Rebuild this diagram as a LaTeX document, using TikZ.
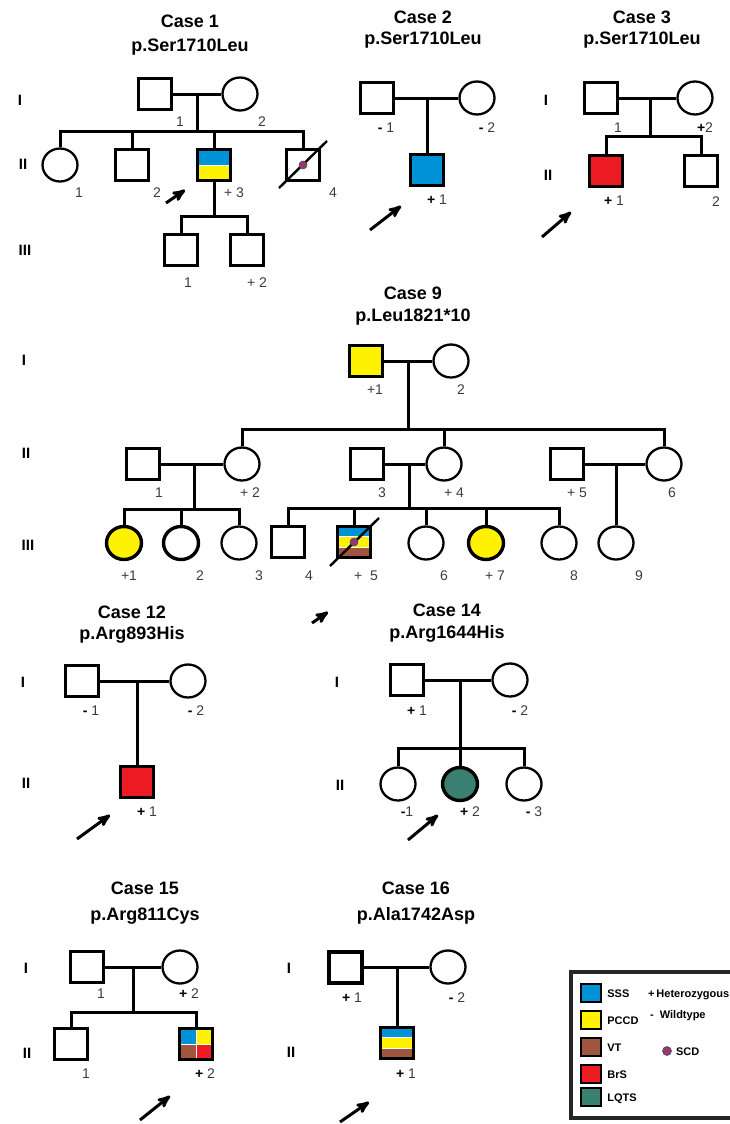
\documentclass[tikz,border=0pt]{standalone}
\usepackage{fontspec}
\setmainfont{Liberation Sans}
\usetikzlibrary{arrows, calc, positioning, shapes.geometric}

\definecolor{sssblue}{RGB}{0,146,214}
\definecolor{pccdyellow}{RGB}{255,242,0}
\definecolor{vtbrown}{RGB}{160,85,62}
\definecolor{brsred}{RGB}{237,28,36}
\definecolor{lqtsgreen}{RGB}{58,128,112}
\definecolor{scdpurple}{RGB}{150,55,115}
\definecolor{numgray}{RGB}{60,60,60}

\newcommand{\hetsign}{\textcolor{black}{\bfseries +}}
\newcommand{\wildsign}{\textcolor{black}{\bfseries -}}

\begin{document}
\begin{tikzpicture}[x=1pt, y=-1pt, >=stealth',
  male/.style={rectangle, draw, line width=3.4pt, minimum width=33pt, minimum height=31pt, inner sep=0pt},
  female/.style={ellipse, draw, line width=2.3pt, minimum width=35pt, minimum height=33pt, inner sep=0pt},
  bold female/.style={female, line width=3.4pt},
  link/.style={line width=3pt},
  dead/.style={line width=2.4pt},
  proband/.style={->, line width=3pt},
  scd/.style={circle, fill=scdpurple, draw=black!70, line width=0.6pt, minimum size=8pt, inner sep=0pt},
  title/.style={font=\bfseries\fontsize{18}{20}\selectfont, text height=12.8pt, text depth=0pt, inner sep=0pt},
  gen/.style={font=\bfseries\fontsize{15}{15}\selectfont, text height=11pt, text depth=0pt, inner sep=0pt},
  num/.style={font=\fontsize{14}{14}\selectfont, text=numgray, text height=10pt, text depth=0pt, inner sep=0pt},
  swatch/.style={rectangle, draw, line width=2.4pt, minimum width=20pt, minimum height=18pt, inner sep=0pt},
  legtext/.style={font=\bfseries\fontsize{11}{12}\selectfont, text height=8pt, text depth=0pt, inner sep=0pt},
  split2/.style={path picture={
    \fill[sssblue] (path picture bounding box.north west) rectangle (path picture bounding box.east);
    \fill[pccdyellow] (path picture bounding box.west) rectangle (path picture bounding box.south east);
    \draw[white, line width=1pt] (path picture bounding box.west) -- (path picture bounding box.east);}},
  split3/.style={path picture={
    \coordinate (pa) at ($(path picture bounding box.north west)!0.333!(path picture bounding box.south west)$);
    \coordinate (pb) at ($(path picture bounding box.north west)!0.667!(path picture bounding box.south west)$);
    \coordinate (pc) at ($(path picture bounding box.north east)!0.333!(path picture bounding box.south east)$);
    \coordinate (pd) at ($(path picture bounding box.north east)!0.667!(path picture bounding box.south east)$);
    \fill[sssblue] (path picture bounding box.north west) rectangle (pc);
    \fill[pccdyellow] (pa) rectangle (pd);
    \fill[vtbrown] (pb) rectangle (path picture bounding box.south east);
    \draw[white, line width=1pt] (pa) -- (pc) (pb) -- (pd);}},
  quad/.style={path picture={
    \fill[sssblue] (path picture bounding box.north west) rectangle (path picture bounding box.center);
    \fill[pccdyellow] (path picture bounding box.north east) rectangle (path picture bounding box.center);
    \fill[vtbrown] (path picture bounding box.south west) rectangle (path picture bounding box.center);
    \fill[brsred] (path picture bounding box.south east) rectangle (path picture bounding box.center);
    \draw[white, line width=1pt] (path picture bounding box.north) -- (path picture bounding box.south)
      (path picture bounding box.west) -- (path picture bounding box.east);}}]

  \useasboundingbox (0,0) rectangle (729,1124);

  % Case 1
  \node[title] (c1title) at (190,21) {Case 1};
  \node[title] (c1mut) at (190,45) {p.Ser1710Leu};
  \node[gen] (c1g1) at (20,100) {I};
  \node[gen] (c1g2) at (23,164) {II};
  \node[gen] (c1g3) at (25,250) {III};
  \node[male] (c1I1) at (155,94) {};
  \node[female] (c1I2) at (240,94) {};
  \node[female] (c1II1) at (60,165) {};
  \node[male] (c1II2) at (132,165) {};
  \node[male, split2] (c1II3) at (214,165) {};
  \node[male] (c1II4) at (303,165) {};
  \node[male] (c1III1) at (181,250) {};
  \node[male] (c1III2) at (247,250) {};
  \coordinate (c1m) at (197,94);
  \coordinate (c1s) at (197,131);
  \coordinate (c1s2) at (214,216);
  \draw[link] (c1I1) -- (c1I2);
  \draw[link] (c1m) -- (c1s);
  \draw[link] (c1II1) |- (c1s) -| (c1II4);
  \draw[link] (c1s -| c1II2) -- (c1II2);
  \draw[link] (c1s -| c1II3) -- (c1II3);
  \draw[link] (c1II3) -- (c1s2);
  \draw[link] (c1III1) |- (c1s2) -| (c1III2);
  \draw[dead] ($(c1II4)+(-24,23)$) -- ($(c1II4)+(24,-24)$);
  \node[scd] (c1dot) at (c1II4) {};
  \node[num] (c1l1) at (180,121) {1};
  \node[num] (c1l2) at (262,121) {2};
  \node[num] (c1l3) at (79,192) {1};
  \node[num] (c1l4) at (157,192) {2};
  \node[num] (c1l5) at (234,192) {+ 3};
  \node[num] (c1l6) at (333,192) {4};
  \node[num] (c1l7) at (188,282) {1};
  \node[num] (c1l8) at (257,282) {+ 2};
  \coordinate (c1a) at (166,203);
  \coordinate (c1b) at (185,190);
  \draw[proband] (c1a) -- (c1b);

  % Case 2
  \node[title] (c2title) at (423,17) {Case 2};
  \node[title] (c2mut) at (423,38) {p.Ser1710Leu};
  \node[male] (c2I1) at (377,98) {};
  \node[female] (c2I2) at (477,98) {};
  \node[male, fill=sssblue] (c2II1) at (427,170) {};
  \coordinate (c2m) at (427,98);
  \draw[link] (c2I1) -- (c2I2);
  \draw[link] (c2m) -- (c2II1);
  \node[num] (c2l1) at (386,127) {\wildsign\ 1};
  \node[num] (c2l2) at (487,127) {\wildsign\ 2};
  \node[num] (c2l3) at (437,199) {\hetsign\ 1};
  \coordinate (c2a) at (370,230);
  \coordinate (c2b) at (401,206);
  \draw[proband] (c2a) -- (c2b);

  % Case 3
  \node[title] (c3title) at (642,17) {Case 3};
  \node[title] (c3mut) at (642,38) {p.Ser1710Leu};
  \node[gen] (c3g1) at (546,100) {I};
  \node[gen] (c3g2) at (548,175) {II};
  \node[male] (c3I1) at (601,98) {};
  \node[female] (c3I2) at (695,98) {};
  \node[male, fill=brsred] (c3II1) at (606,171) {};
  \node[male] (c3II2) at (701,171) {};
  \coordinate (c3m) at (650,98);
  \coordinate (c3s) at (650,136);
  \draw[link] (c3I1) -- (c3I2);
  \draw[link] (c3m) -- (c3s);
  \draw[link] (c3II1) |- (c3s) -| (c3II2);
  \node[num] (c3l1) at (618,127) {1};
  \node[num] (c3l2) at (705,127) {\hetsign 2};
  \node[num] (c3l3) at (614,200) {\hetsign\ 1};
  \node[num] (c3l4) at (716,201) {2};
  \coordinate (c3a) at (542,237);
  \coordinate (c3b) at (571,212);
  \draw[proband] (c3a) -- (c3b);

  % Case 9
  \node[title] (c9title) at (413,293) {Case 9};
  \node[title] (c9mut) at (413,315) {p.Leu1821*10};
  \node[gen] (c9g1) at (24,360) {I};
  \node[gen] (c9g2) at (26,453) {II};
  \node[gen] (c9g3) at (28,545) {III};
  \node[male, fill=pccdyellow] (c9I1) at (366,361) {};
  \node[female] (c9I2) at (451,361) {};
  \node[male] (c9II1) at (143,464) {};
  \node[female] (c9II2) at (242,464) {};
  \node[male] (c9II3) at (367,464) {};
  \node[female] (c9II4) at (444,464) {};
  \node[male] (c9II5) at (567,464) {};
  \node[female] (c9II6) at (664,464) {};
  \node[bold female, fill=pccdyellow] (c9III1) at (124,543) {};
  \node[bold female] (c9III2) at (181,543) {};
  \node[female] (c9III3) at (239,543) {};
  \node[male] (c9III4) at (288,542) {};
  \node[male, split3] (c9III5) at (354,542) {};
  \node[female] (c9III6) at (426,543) {};
  \node[bold female, fill=pccdyellow] (c9III7) at (486,543) {};
  \node[female] (c9III8) at (559,543) {};
  \node[female] (c9III9) at (616,543) {};
  \coordinate (c9m) at (408,361);
  \coordinate (c9s) at (408,429);
  \coordinate (c9m1) at (194,464);
  \coordinate (c9s1) at (194,509);
  \coordinate (c9m2) at (409,464);
  \coordinate (c9s2) at (409,508);
  \coordinate (c9m3) at (616,464);
  \draw[link] (c9I1) -- (c9I2);
  \draw[link] (c9m) -- (c9s);
  \draw[link] (c9II2) |- (c9s) -| (c9II6);
  \draw[link] (c9s -| c9II4) -- (c9II4);
  \draw[link] (c9II1) -- (c9II2);
  \draw[link] (c9m1) -- (c9s1);
  \draw[link] (c9III1) |- (c9s1) -| (c9III3);
  \draw[link] (c9s1 -| c9III2) -- (c9III2);
  \draw[link] (c9II3) -- (c9II4);
  \draw[link] (c9m2) -- (c9s2);
  \draw[link] (c9III4) |- (c9s2) -| (c9III8);
  \draw[link] (c9s2 -| c9III5) -- (c9III5);
  \draw[link] (c9s2 -| c9III6) -- (c9III6);
  \draw[link] (c9s2 -| c9III7) -- (c9III7);
  \draw[link] (c9II5) -- (c9II6);
  \draw[link] (c9m3) -- (c9III9);
  \draw[dead] ($(c9III5)+(-24,24)$) -- ($(c9III5)+(25,-24)$);
  \node[scd] (c9dot) at (c9III5) {};
  \node[num] (c9l1) at (375,389) {+1};
  \node[num] (c9l2) at (461,389) {2};
  \node[num] (c9l3) at (159,492) {1};
  \node[num] (c9l4) at (250,492) {+ 2};
  \node[num] (c9l5) at (382,492) {3};
  \node[num] (c9l6) at (454,492) {+ 4};
  \node[num] (c9l7) at (577,492) {+ 5};
  \node[num] (c9l8) at (672,492) {6};
  \node[num] (c9l9) at (129,575) {+1};
  \node[num] (c9l10) at (200,575) {2};
  \node[num] (c9l11) at (259,575) {3};
  \node[num] (c9l12) at (309,575) {4};
  \node[num] (c9l13) at (366,575) {+ \ 5};
  \node[num] (c9l14) at (444,575) {6};
  \node[num] (c9l15) at (495,575) {+ 7};
  \node[num] (c9l16) at (574,575) {8};
  \node[num] (c9l17) at (639,575) {9};
  \coordinate (c9a) at (312,623);
  \coordinate (c9b) at (328,612);
  \draw[proband] (c9a) -- (c9b);

  % Case 12
  \node[title] (c12title) at (132,612) {Case 12};
  \node[title] (c12mut) at (132,633) {p.Arg893His};
  \node[gen] (c12g1) at (23,682) {I};
  \node[gen] (c12g2) at (26,783) {II};
  \node[male] (c12I1) at (82,681) {};
  \node[female] (c12I2) at (188,681) {};
  \node[male, fill=brsred] (c12II1) at (137,782) {};
  \coordinate (c12m) at (137,681);
  \draw[link] (c12I1) -- (c12I2);
  \draw[link] (c12m) -- (c12II1);
  \node[num] (c12l1) at (91,710) {\wildsign\ 1};
  \node[num] (c12l2) at (196,710) {\wildsign\ 2};
  \node[num] (c12l3) at (147,811) {\hetsign\ 1};
  \coordinate (c12a) at (77,839);
  \coordinate (c12b) at (110,815);
  \draw[proband] (c12a) -- (c12b);

  % Case 14
  \node[title] (c14title) at (447,610) {Case 14};
  \node[title] (c14mut) at (447,632) {p.Arg1644His};
  \node[gen] (c14g1) at (337,682) {I};
  \node[gen] (c14g2) at (340,785) {II};
  \node[male] (c14I1) at (407,680) {};
  \node[female] (c14I2) at (510,680) {};
  \node[female] (c14II1) at (398,784) {};
  \node[bold female, fill=lqtsgreen] (c14II2) at (460,784) {};
  \node[female] (c14II3) at (524,784) {};
  \coordinate (c14m) at (460,680);
  \coordinate (c14s) at (460,748);
  \draw[link] (c14I1) -- (c14I2);
  \draw[link] (c14m) -- (c14s);
  \draw[link] (c14II1) |- (c14s) -| (c14II3);
  \draw[link] (c14s) -- (c14II2);
  \node[num] (c14l1) at (417,710) {\hetsign\ 1};
  \node[num] (c14l2) at (520,710) {\wildsign\ 2};
  \node[num] (c14l3) at (407,811) {\wildsign 1};
  \node[num] (c14l4) at (470,811) {\hetsign\ 2};
  \node[num] (c14l5) at (534,811) {\wildsign\ 3};
  \coordinate (c14a) at (408,840);
  \coordinate (c14b) at (438,815);
  \draw[proband] (c14a) -- (c14b);

  % Case 15
  \node[title] (c15title) at (145,888) {Case 15};
  \node[title] (c15mut) at (145,914) {p.Arg811Cys};
  \node[gen] (c15g1) at (26,968) {I};
  \node[gen] (c15g2) at (27,1053) {II};
  \node[male] (c15I1) at (87,967) {};
  \node[female] (c15I2) at (180,967) {};
  \node[male] (c15II1) at (71,1044) {};
  \node[male, quad] (c15II2) at (196,1044) {};
  \coordinate (c15m) at (133,967);
  \coordinate (c15s) at (133,1012);
  \draw[link] (c15I1) -- (c15I2);
  \draw[link] (c15m) -- (c15s);
  \draw[link] (c15II1) |- (c15s) -| (c15II2);
  \node[num] (c15l1) at (101,993) {1};
  \node[num] (c15l2) at (189,993) {\hetsign\ 2};
  \node[num] (c15l3) at (86,1073) {1};
  \node[num] (c15l4) at (205,1073) {\hetsign\ 2};
  \coordinate (c15a) at (140,1120);
  \coordinate (c15b) at (170,1096);
  \draw[proband] (c15a) -- (c15b);

  % Case 16
  \node[title] (c16title) at (416,888) {Case 16};
  \node[title] (c16mut) at (416,914) {p.Ala1742Asp};
  \node[gen] (c16g1) at (289,968) {I};
  \node[gen] (c16g2) at (291,1052) {II};
  \node[male, line width=4pt] (c16I1) at (345,967) {};
  \node[female] (c16I2) at (448,967) {};
  \node[male, split3] (c16II1) at (397,1043) {};
  \coordinate (c16m) at (397,967);
  \draw[link] (c16I1) -- (c16I2);
  \draw[link] (c16m) -- (c16II1);
  \node[num] (c16l1) at (352,997) {\hetsign\ 1};
  \node[num] (c16l2) at (457,997) {\wildsign\ 2};
  \node[num] (c16l3) at (406,1073) {\hetsign\ 1};
  \coordinate (c16a) at (340,1122);
  \coordinate (c16b) at (369,1102);
  \draw[proband] (c16a) -- (c16b);

  % legend
  \draw[line width=3.2pt, draw=black!85] (571,972) rectangle (745,1118);
  \node[swatch, fill=sssblue] (lgsss) at (591,993) {};
  \node[swatch, fill=pccdyellow] (lgpccd) at (591,1020) {};
  \node[swatch, fill=vtbrown] (lgvt) at (591,1047) {};
  \node[swatch, fill=brsred] (lgbrs) at (591,1074) {};
  \node[swatch, fill=lqtsgreen] (lglqts) at (591,1097) {};
  \node[legtext, right=5pt of lgsss] (lgssstext) {SSS};
  \node[legtext, right=5pt of lgpccd] (lgpccdtext) {PCCD};
  \node[legtext, right=5pt of lgvt] (lgvttext) {VT};
  \node[legtext, right=5pt of lgbrs] (lgbrstext) {BrS};
  \node[legtext, right=5pt of lglqts] (lglqtstext) {LQTS};
  \node[legtext, anchor=west] (lghet) at (648,993) {+\,Heterozygous};
  \node[legtext, anchor=west] (lgwt) at (650,1014) {-\hspace{6pt}Wildtype};
  \node[scd, minimum size=9pt] (lgscd) at (667,1051) {};
  \node[legtext, right=4pt of lgscd] (lgscdtext) {SCD};
\end{tikzpicture}
\end{document}
